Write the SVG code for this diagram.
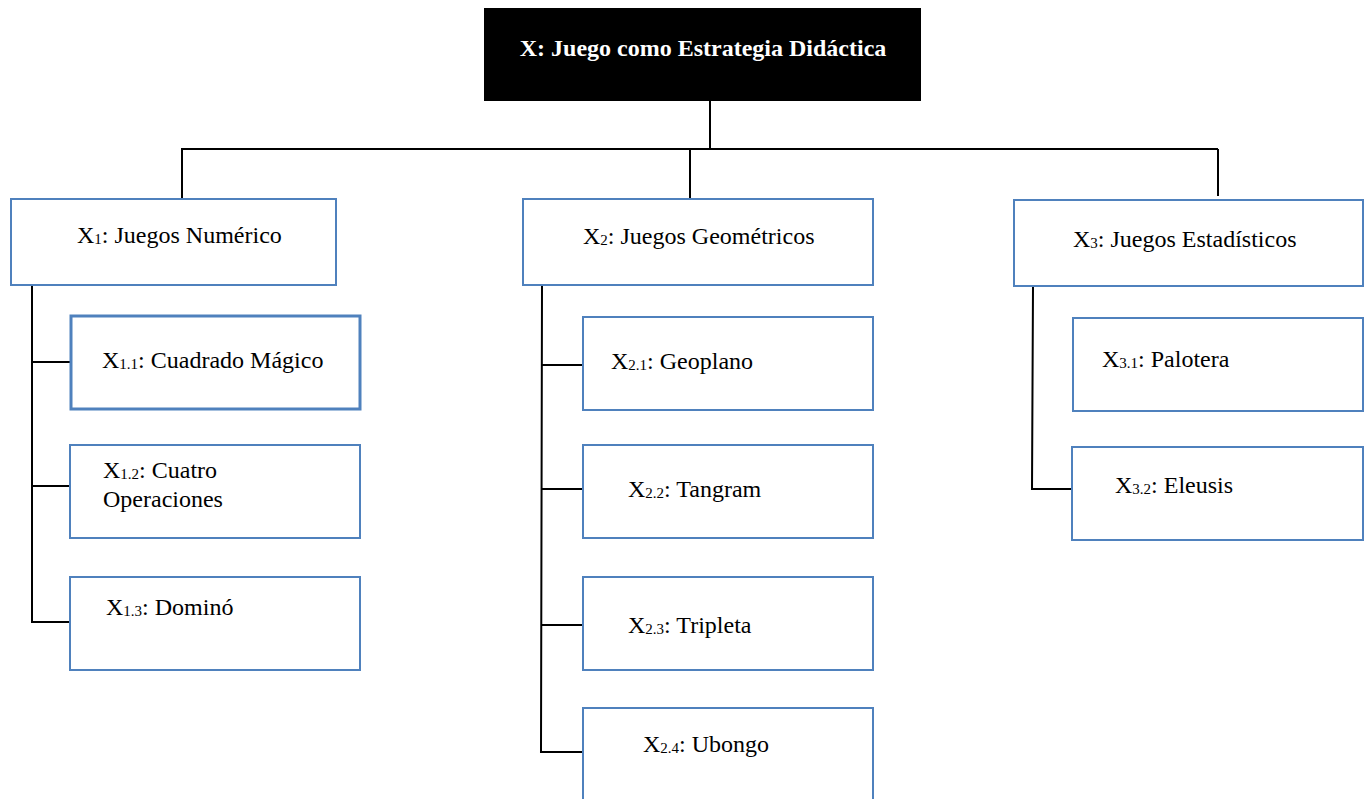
<svg xmlns="http://www.w3.org/2000/svg" width="1364" height="799" viewBox="0 0 1364 799">
  <style>
    .box { fill: #ffffff; stroke: #4f81bd; stroke-width: 2; }
    .box-strong { fill: #ffffff; stroke: #4f81bd; stroke-width: 3; }
    .root { fill: #000000; }
    .lbl { font-family: "Liberation Serif", "Times New Roman", serif; font-size: 24px; fill: #000000; }
    .title { font-family: "Liberation Serif", "Times New Roman", serif; font-size: 24px; font-weight: bold; fill: #ffffff; }
    .sub { font-size: 15px; }
    .wire { stroke: #000000; stroke-width: 2; fill: none; }
  </style>

  <rect width="1364" height="799" fill="#ffffff"/>

  <!-- connectors -->
  <g id="connectors">
    <line class="wire" x1="710" y1="101" x2="710" y2="149"/>
    <line class="wire" x1="181" y1="149" x2="1218" y2="149"/>
    <line class="wire" x1="182" y1="149" x2="182" y2="198"/>
    <line class="wire" x1="690" y1="149" x2="690" y2="199"/>
    <line class="wire" x1="1218" y1="149" x2="1218" y2="196"/>
    <!-- X1 branch -->
    <polyline class="wire" points="32,282 32,622 70,622"/>
    <line class="wire" x1="32" y1="362" x2="70" y2="362"/>
    <line class="wire" x1="32" y1="486" x2="70" y2="486"/>
    <!-- X2 branch -->
    <polyline class="wire" points="542,285 541,752 583,752"/>
    <line class="wire" x1="542" y1="365" x2="583" y2="365"/>
    <line class="wire" x1="542" y1="489" x2="583" y2="489"/>
    <line class="wire" x1="541" y1="625" x2="583" y2="625"/>
    <!-- X3 branch -->
    <polyline class="wire" points="1033,286 1032,489 1072,489"/>
  </g>

  <!-- root -->
  <g id="node-x">
    <rect class="root" x="484" y="8" width="437" height="93"/>
    <text class="title" x="703" y="56" text-anchor="middle">X: Juego como Estrategia Didáctica</text>
  </g>

  <!-- level 1 -->
  <g id="node-x1">
    <rect class="box" x="11" y="199" width="325" height="86"/>
    <text class="lbl" x="77" y="243">X<tspan class="sub" dy="1">1</tspan><tspan dy="-1">: Juegos Numérico</tspan></text>
  </g>
  <g id="node-x2">
    <rect class="box" x="523" y="199" width="350" height="86"/>
    <text class="lbl" x="583" y="244">X<tspan class="sub" dy="1">2</tspan><tspan dy="-1">: Juegos Geométricos</tspan></text>
  </g>
  <g id="node-x3">
    <rect class="box" x="1014" y="200" width="349" height="86"/>
    <text class="lbl" x="1073" y="247">X<tspan class="sub" dy="1">3</tspan><tspan dy="-1">: Juegos Estadísticos</tspan></text>
  </g>

  <!-- X1 children -->
  <g id="node-x11">
    <rect class="box-strong" x="71" y="316" width="289" height="93"/>
    <text class="lbl" x="102" y="368">X<tspan class="sub" dy="1">1.1</tspan><tspan dy="-1">: Cuadrado Mágico</tspan></text>
  </g>
  <g id="node-x12">
    <rect class="box" x="70" y="445" width="290" height="93"/>
    <text class="lbl" x="103" y="478">X<tspan class="sub" dy="1">1.2</tspan><tspan dy="-1">: Cuatro</tspan></text>
    <text class="lbl" x="103" y="507">Operaciones</text>
  </g>
  <g id="node-x13">
    <rect class="box" x="70" y="577" width="290" height="93"/>
    <text class="lbl" x="106" y="615">X<tspan class="sub" dy="1">1.3</tspan><tspan dy="-1">: Dominó</tspan></text>
  </g>

  <!-- X2 children -->
  <g id="node-x21">
    <rect class="box" x="583" y="317" width="290" height="93"/>
    <text class="lbl" x="611" y="369">X<tspan class="sub" dy="1">2.1</tspan><tspan dy="-1">: Geoplano</tspan></text>
  </g>
  <g id="node-x22">
    <rect class="box" x="583" y="445" width="290" height="93"/>
    <text class="lbl" x="628" y="497">X<tspan class="sub" dy="1">2.2</tspan><tspan dy="-1">: Tangram</tspan></text>
  </g>
  <g id="node-x23">
    <rect class="box" x="583" y="577" width="290" height="93"/>
    <text class="lbl" x="628" y="633">X<tspan class="sub" dy="1">2.3</tspan><tspan dy="-1">: Tripleta</tspan></text>
  </g>
  <g id="node-x24">
    <rect class="box" x="583" y="708" width="290" height="100"/>
    <text class="lbl" x="643" y="752">X<tspan class="sub" dy="1">2.4</tspan><tspan dy="-1">: Ubongo</tspan></text>
  </g>

  <!-- X3 children -->
  <g id="node-x31">
    <rect class="box" x="1073" y="318" width="290" height="93"/>
    <text class="lbl" x="1102" y="367">X<tspan class="sub" dy="1">3.1</tspan><tspan dy="-1">: Palotera</tspan></text>
  </g>
  <g id="node-x32">
    <rect class="box" x="1072" y="447" width="291" height="93"/>
    <text class="lbl" x="1115" y="493">X<tspan class="sub" dy="1">3.2</tspan><tspan dy="-1">: Eleusis</tspan></text>
  </g>
</svg>
